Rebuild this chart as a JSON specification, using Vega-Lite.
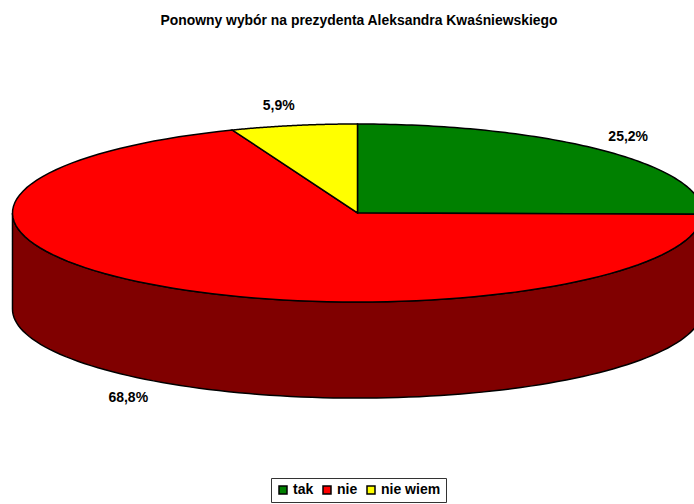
{
  "$schema": "https://vega.github.io/schema/vega-lite/v6.json",
  "width": 694,
  "height": 504,
  "padding": 0,
  "autosize": {"type": "none"},
  "background": "white",
  "title": {
    "text": "Ponowny wybór na prezydenta Aleksandra Kwaśniewskiego",
    "font": "Liberation Sans",
    "fontSize": 13.9,
    "fontWeight": "bold",
    "color": "black",
    "anchor": "middle",
    "dx": 12,
    "offset": -28
  },
  "view": {"stroke": null},
  "data": {
    "values": [
      {"answer": "tak", "share": 25.2, "label": "25,2%"},
      {"answer": "nie", "share": 68.8, "label": "68,8%"},
      {"answer": "nie wiem", "share": 5.9, "label": "5,9%"}
    ]
  },
  "transform": [
    {"joinaggregate": [{"op": "sum", "field": "share", "as": "total"}]},
    {"window": [{"op": "sum", "field": "share", "as": "cum"}]},
    {"calculate": "2*PI*(datum.cum-datum.share)/datum.total", "as": "a0"},
    {"calculate": "2*PI*datum.cum/datum.total", "as": "a1"}
  ],
  "encoding": {
    "x": {"type": "quantitative", "scale": {"domain": [-1.0362, 0.9754]}, "axis": null},
    "y": {"type": "quantitative", "scale": {"domain": [-3.27, 2.393]}, "axis": null}
  },
  "layer": [
    {
      "transform": [
        {"filter": "datum.answer == 'nie'"},
        {"calculate": "sequence(0,101)", "as": "i"},
        {"flatten": ["i"]},
        {"calculate": "datum.a0+(1.5*PI-datum.a0)*datum.i/100", "as": "t"},
        {"calculate": "sin(datum.t)", "as": "px"},
        {"calculate": "cos(datum.t)", "as": "py"},
        {"calculate": "datum.py-1.08", "as": "py2"}
      ],
      "mark": {"type": "area", "fill": "#800000", "stroke": "black", "strokeWidth": 1.5, "clip": true},
      "encoding": {
        "x": {"field": "px", "type": "quantitative"},
        "y": {"field": "py", "type": "quantitative"},
        "y2": {"field": "py2"}
      }
    },
    {
      "transform": [
        {"calculate": "sequence(-1,101)", "as": "i"},
        {"flatten": ["i"]},
        {"calculate": "datum.a0+(datum.a1-datum.a0)*datum.i/100", "as": "t"},
        {"calculate": "datum.i<0?0:sin(datum.t)", "as": "px"},
        {"calculate": "datum.i<0?0:cos(datum.t)", "as": "py"}
      ],
      "mark": {"type": "line", "filled": true, "interpolate": "linear-closed", "stroke": "black", "strokeWidth": 1.5, "clip": true},
      "encoding": {
        "x": {"field": "px", "type": "quantitative"},
        "y": {"field": "py", "type": "quantitative"},
        "order": {"field": "i", "type": "quantitative"},
        "fill": {
          "field": "answer",
          "type": "nominal",
          "scale": {"domain": ["tak", "nie", "nie wiem"], "range": ["#008000", "#ff0000", "#ffff00"]},
          "legend": {
            "orient": "none",
            "legendX": 271,
            "legendY": 478,
            "direction": "horizontal",
            "title": null,
            "strokeColor": "#333333",
            "padding": 5,
            "symbolType": "square",
            "symbolSize": 64,
            "symbolStrokeColor": "black",
            "symbolStrokeWidth": 1.5,
            "symbolOpacity": 1,
            "labelFont": "Liberation Sans",
            "labelFontSize": 14,
            "labelFontWeight": "bold",
            "labelColor": "black",
            "columnPadding": 6,
            "labelOffset": 3
          }
        }
      }
    },
    {
      "transform": [
        {"calculate": "(datum.a0+datum.a1)/2", "as": "m"},
        {"calculate": "1.13*sin(datum.m)-0.02", "as": "lx"},
        {"calculate": "1.22*cos(datum.m)-(cos(datum.m)<0?1.08:0)", "as": "ly"}
      ],
      "mark": {"type": "text", "font": "Liberation Sans", "fontSize": 14, "fontWeight": "bold", "color": "black", "align": "center", "baseline": "middle"},
      "encoding": {
        "x": {"field": "lx", "type": "quantitative"},
        "y": {"field": "ly", "type": "quantitative"},
        "text": {"field": "label", "type": "nominal"}
      }
    }
  ]
}
